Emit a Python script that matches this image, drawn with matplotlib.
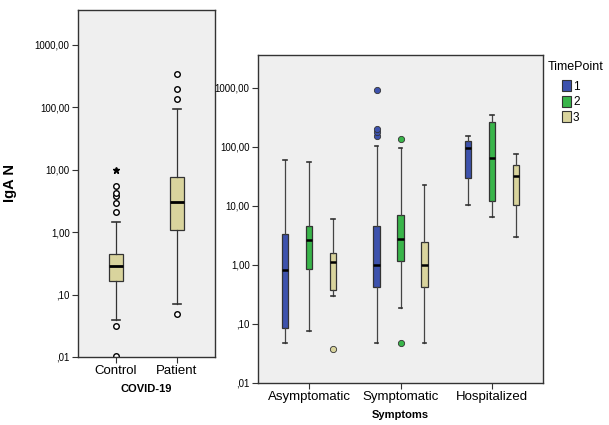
import matplotlib.pyplot as plt
from matplotlib.patches import Patch

plt.rcParams['font.family'] = ['Liberation Sans', 'DejaVu Sans']

# left panel: IgA N by COVID-19 group
covid_groups = ['Control', 'Patient']
covid_whislo = [0.039, 0.07]
covid_q1 = [0.165, 1.1]
covid_med = [0.29, 3.0]
covid_q3 = [0.44, 7.6]
covid_whishi = [1.44, 93]
covid_fliers = [[0.0104, 0.031, 2.1, 2.9, 3.8, 4.3, 5.4], [0.049, 135, 197, 343]]
control_extreme = [10.0]

# right panel: IgA N by symptoms and time point
symptoms = ['Asymptomatic', 'Symptomatic', 'Hospitalized']
timepoints = ['1', '2', '3']
tp_colors = ['#3d52ad', '#39b54a', '#d9d49d']
# [timepoint][symptom group]
tp_whislo = [[0.048, 0.048, 10.3], [0.076, 0.19, 6.6], [0.30, 0.048, 3.0]]
tp_q1 = [[0.087, 0.43, 29.5], [0.87, 1.17, 11.9], [0.38, 0.43, 10.2]]
tp_med = [[0.83, 1.0, 94], [2.6, 2.75, 66], [1.1, 1.0, 32]]
tp_q3 = [[3.4, 4.5, 127], [4.6, 7.1, 261], [1.6, 2.4, 49]]
tp_whishi = [[60, 104, 152], [56, 95, 347], [6.0, 23, 75]]
tp_fliers = [[[], [154, 180, 200, 920], []],
             [[], [0.048, 135], []],
             [[0.038], [], []]]

yticks = [0.01, 0.1, 1, 10, 100, 1000]
ytick_labels = [',01', ',10', '1,00', '10,00', '100,00', '1000,00']
bg = '#efefef'

fig = plt.figure(figsize=(6.09, 4.25), dpi=100)


def style_axis(ax):
    ax.set_yscale('log')
    ax.set_ylim(0.01, 3600)
    ax.set_yticks(yticks)
    ax.set_yticklabels(ytick_labels, fontsize=7)
    ax.minorticks_off()
    ax.set_facecolor(bg)
    for s in ax.spines.values():
        s.set_color('#333333')
        s.set_linewidth(1.0)
    ax.tick_params(axis='y', length=4, width=0.8, pad=2, color='#333333')
    ax.tick_params(axis='x', length=4, width=0.8, pad=2, labelsize=9.5, color='#333333')


# ---- left panel ----
ax1 = fig.add_axes([78 / 609, 1 - 357 / 425, 137 / 609, 347 / 425])
stats = []
for i, name in enumerate(covid_groups):
    stats.append({'label': name, 'whislo': covid_whislo[i], 'q1': covid_q1[i],
                  'med': covid_med[i], 'q3': covid_q3[i], 'whishi': covid_whishi[i],
                  'fliers': covid_fliers[i]})
pos1 = list(range(1, len(covid_groups) + 1))
ax1.bxp(stats, positions=pos1, widths=0.23, patch_artist=True,
        boxprops=dict(facecolor=tp_colors[2], edgecolor='#333333', linewidth=0.9),
        medianprops=dict(color='black', linewidth=2),
        whiskerprops=dict(color='#333333', linewidth=0.9),
        capprops=dict(color='#333333', linewidth=1.2),
        flierprops=dict(marker='o', markersize=4, markerfacecolor='white',
                        markeredgecolor='black', markeredgewidth=1.0),
        capwidths=0.12)
ax1.plot([pos1[0]] * len(control_extreme), control_extreme, linestyle='none',
         marker='*', markersize=5, color='black')
style_axis(ax1)
ax1.set_xlim(0.377, 2.623)
ax1.set_xticks(pos1)
ax1.set_xticklabels(covid_groups)
ax1.set_xlabel('COVID-19', fontsize=8, fontweight='bold', labelpad=5)
ax1.set_ylabel('IgA N', fontsize=10.5, fontweight='bold')
ax1.yaxis.set_label_coords(-0.445, 0.5)

# ---- right panel ----
ax2 = fig.add_axes([258 / 609, 1 - 383 / 425, 285 / 609, 328 / 425])
offset = 0.262
for t, tp in enumerate(timepoints):
    stats = []
    for g in range(len(symptoms)):
        stats.append({'whislo': tp_whislo[t][g], 'q1': tp_q1[t][g], 'med': tp_med[t][g],
                      'q3': tp_q3[t][g], 'whishi': tp_whishi[t][g],
                      'fliers': tp_fliers[t][g]})
    pos = [g + (t - 1) * offset for g in range(len(symptoms))]
    ax2.bxp(stats, positions=pos, widths=0.075, patch_artist=True, manage_ticks=False,
            boxprops=dict(facecolor=tp_colors[t], edgecolor='#333333', linewidth=0.9),
            medianprops=dict(color='black', linewidth=1.8),
            whiskerprops=dict(color='#444444', linewidth=0.9),
            capprops=dict(color='#333333', linewidth=1.2),
            flierprops=dict(marker='o', markersize=4.5, markerfacecolor=tp_colors[t],
                            markeredgecolor='#333333', markeredgewidth=0.6),
            capwidths=0.04)
style_axis(ax2)
ax2.set_xlim(-0.557, 2.557)
ax2.set_xticks(range(len(symptoms)))
ax2.set_xticklabels(symptoms)
ax2.set_xlabel('Symptoms', fontsize=8, fontweight='bold', labelpad=5)

# legend
fig.text(548 / 609, 1 - 67 / 425, 'TimePoint', fontsize=9, ha='left', va='center')
handles = [Patch(facecolor=c, edgecolor='#333333', linewidth=0.8, label=tp)
           for c, tp in zip(tp_colors, timepoints)]
fig.legend(handles=handles, loc='upper left',
           bbox_to_anchor=(560 / 609, 1 - 78 / 425), frameon=False,
           fontsize=8.5, handlelength=0.75, handleheight=1.05,
           handletextpad=0.15, labelspacing=0.25, borderaxespad=0.0, borderpad=0.2)

fig.savefig('out.png', dpi=100, facecolor='white')
